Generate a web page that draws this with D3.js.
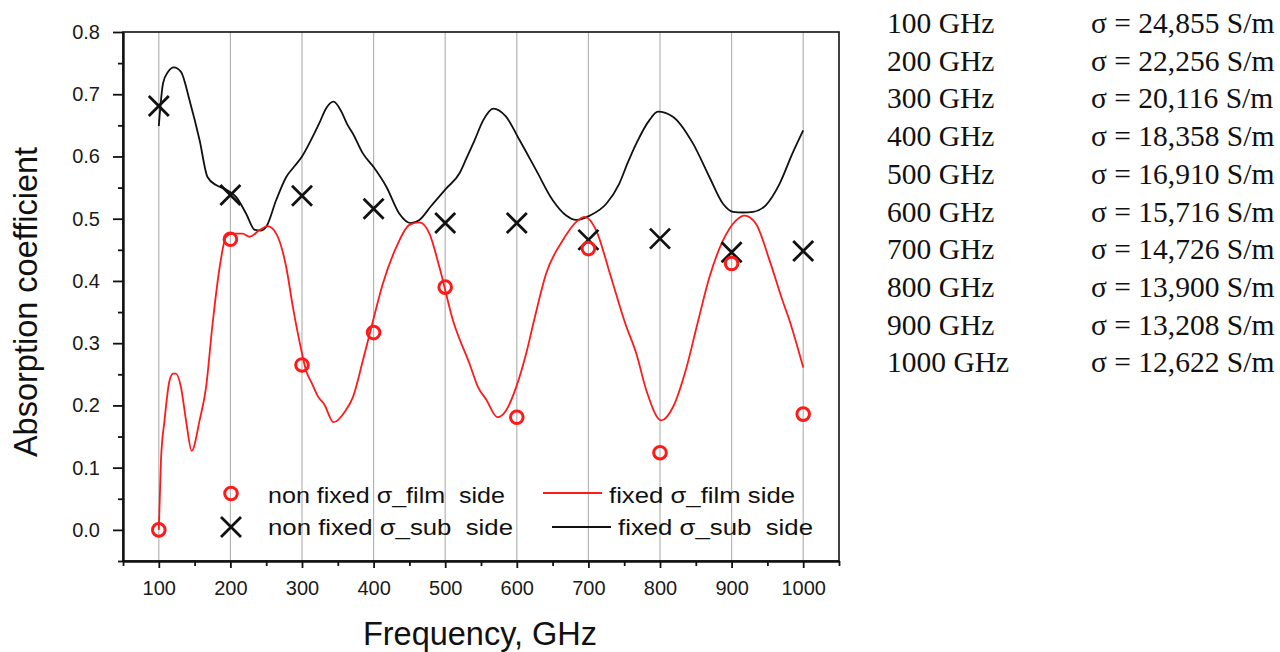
<!DOCTYPE html>
<html>
<head>
<meta charset="utf-8">
<script src="https://cdn.jsdelivr.net/npm/d3@7"></script>
<style>
    body { margin: 0; background: white; }
    #chart-area { width: 1280px; height: 652px; }
    .axis text { font-family: "Liberation Sans", Arial, sans-serif; font-size: 20px; fill: #1a1a1a; }
    .axis-title { font-family: "Liberation Sans", Arial, sans-serif; font-size: 32.5px; fill: #111; }
    .legend text { font-family: "Liberation Sans", Arial, sans-serif; font-size: 22px; fill: #111; white-space: pre; }
    .sigma-list text { font-family: "Liberation Serif", "Times New Roman", serif; font-size: 29.5px; fill: #111; }
</style>
</head>
<body>
<div id="chart-area"></div>
<script>

// measured points (markers)
let freqs = [100, 200, 300, 400, 500, 600, 700, 800, 900, 1000];
let filmPoints = [0.0, 0.467, 0.265, 0.317, 0.390, 0.181, 0.452, 0.124, 0.428, 0.186];
let subPoints = [0.681, 0.538, 0.537, 0.516, 0.493, 0.493, 0.466, 0.468, 0.446, 0.448];

// fixed sigma curves, [freq, value]
let filmCurve = [[100,0.0],[103,0.111],[108,0.176],[115,0.240],[120,0.251],[124,0.251],[131,0.229],[138,0.176],
    [146,0.127],[157,0.176],[166,0.229],[175,0.330],[185,0.422],[194,0.471],[203,0.476],[217,0.476],[227,0.471],
    [241,0.482],[252,0.488],[264,0.476],[278,0.422],[287,0.36],[297,0.30],[306,0.255],[314,0.235],[322,0.215],
    [331,0.202],[344,0.173],[361,0.192],[371,0.213],[385,0.272],[397,0.326],[413,0.396],[432,0.455],[450,0.490],
    [464,0.494],[478,0.476],[492,0.422],[511,0.336],[534,0.267],[546,0.229],[557,0.210],[573,0.181],[585,0.192],
    [599,0.229],[613,0.283],[624,0.336],[641,0.412],[664,0.465],[683,0.495],[695,0.503],[711,0.481],[730,0.412],
    [752,0.330],[767,0.283],[781,0.224],[802,0.176],[818,0.197],[837,0.261],[852,0.330],[869,0.406],[888,0.465],
    [906,0.497],[918,0.505],[934,0.492],[953,0.433],[971,0.369],[981,0.336],[1000,0.261]];

let subCurve = [[100,0.649],[106,0.718],[113,0.736],[121,0.743],[131,0.736],[143,0.69],[157,0.626],[168,0.567],
    [180,0.554],[194,0.547],[208,0.535],[222,0.508],[234,0.482],[243,0.481],[250,0.487],[264,0.53],[278,0.567],
    [290,0.585],[300,0.600],[312,0.625],[324,0.653],[334,0.678],[344,0.688],[355,0.672],[363,0.652],[371,0.637],
    [385,0.605],[400,0.583],[418,0.551],[436,0.508],[452,0.493],[464,0.498],[480,0.52],[501,0.548],[520,0.573],
    [530,0.598],[541,0.626],[553,0.658],[567,0.677],[585,0.664],[604,0.626],[627,0.578],[650,0.53],[669,0.505],
    [683,0.498],[702,0.505],[725,0.524],[743,0.556],[755,0.59],[767,0.621],[785,0.658],[797,0.672],[818,0.664],
    [846,0.621],[869,0.567],[888,0.524],[902,0.511],[916,0.510],[930,0.511],[948,0.522],[967,0.556],[985,0.605],
    [1000,0.642]];

let legendLabels = ["non fixed \u03c3_film  side", "non fixed \u03c3_sub  side", "fixed \u03c3_film side", "fixed \u03c3_sub  side"];

let sigmaFreqLabels = ["100 GHz", "200 GHz", "300 GHz", "400 GHz", "500 GHz", "600 GHz", "700 GHz", "800 GHz", "900 GHz", "1000 GHz"];
let sigmaValues = ["24,855", "22,256", "20,116", "18,358", "16,910", "15,716", "14,726", "13,900", "13,208", "12,622"];


class AbsorptionChart {

    constructor(parentElement) {
        this.parentElement = parentElement;
        this.red = "#ff1a1a";
        this.dark = "#111";
        this.initVis();
    }

    initVis() {
        let vis = this;

        vis.margin = {top: 32, right: 441, bottom: 91, left: 123};
        vis.width = 1280 - vis.margin.left - vis.margin.right;
        vis.height = 652 - vis.margin.top - vis.margin.bottom;

        vis.root = d3.select("#" + vis.parentElement).append("svg")
            .attr("width", 1280)
            .attr("height", 652);

        vis.svg = vis.root.append("g")
            .attr("transform", `translate(${vis.margin.left}, ${vis.margin.top})`);

        vis.x = d3.scaleLinear()
            .domain([50, 1050])
            .range([0, vis.width]);

        vis.y = d3.scaleLinear()
            .domain([-0.05, 0.8])
            .range([vis.height, 0]);

        // vertical grid
        vis.svg.append("g")
            .attr("class", "grid")
            .selectAll("line")
            .data(freqs)
            .enter().append("line")
            .attr("x1", d => vis.x(d))
            .attr("x2", d => vis.x(d))
            .attr("y1", 0)
            .attr("y2", vis.height)
            .attr("stroke", "#b4b4b4")
            .attr("stroke-width", 1.2);

        // frame (top/right)
        vis.svg.append("rect")
            .attr("width", vis.width)
            .attr("height", vis.height)
            .attr("fill", "none")
            .attr("stroke", vis.dark)
            .attr("stroke-width", 1.6);

        vis.drawAxes();
        vis.updateVis();
        vis.drawLegend();
        vis.drawSigmaList();
    }

    drawAxes() {
        let vis = this;

        let yMinor = d3.range(-0.05, 0.8, 0.1);
        let xMinor = d3.range(50, 1051, 100);

        vis.svg.append("g")
            .attr("class", "y-minor")
            .call(d3.axisLeft(vis.y).tickValues(yMinor).tickSize(5).tickFormat(""))
            .call(g => g.select(".domain").remove())
            .selectAll("line").attr("stroke", vis.dark).attr("stroke-width", 1.8);

        vis.svg.append("g")
            .attr("class", "x-minor")
            .attr("transform", `translate(0, ${vis.height})`)
            .call(d3.axisBottom(vis.x).tickValues(xMinor).tickSize(5).tickFormat(""))
            .call(g => g.select(".domain").remove())
            .selectAll("line").attr("stroke", vis.dark).attr("stroke-width", 1.8);

        let yAxis = vis.svg.append("g")
            .attr("class", "axis y-axis")
            .call(d3.axisLeft(vis.y)
                .tickValues(d3.range(0, 0.81, 0.1))
                .tickFormat(d3.format(".1f"))
                .tickSize(10)
                .tickSizeOuter(0)
                .tickPadding(13));

        let xAxis = vis.svg.append("g")
            .attr("class", "axis x-axis")
            .attr("transform", `translate(0, ${vis.height})`)
            .call(d3.axisBottom(vis.x)
                .tickValues(freqs)
                .tickFormat(d3.format("d"))
                .tickSize(7)
                .tickSizeOuter(0)
                .tickPadding(13));

        [yAxis, xAxis].forEach(a => {
            a.select(".domain").attr("stroke", vis.dark).attr("stroke-width", 2.4);
            a.selectAll(".tick line").attr("stroke", vis.dark).attr("stroke-width", 1.8);
        });

        vis.root.append("text")
            .attr("class", "axis-title")
            .attr("text-anchor", "middle")
            .attr("transform", "translate(37, 302) rotate(-90)")
            .text("Absorption coefficient");

        vis.root.append("text")
            .attr("class", "axis-title")
            .attr("text-anchor", "middle")
            .attr("x", 480)
            .attr("y", 645)
            .text("Frequency, GHz");
    }

    updateVis() {
        let vis = this;

        let line = d3.line()
            .curve(d3.curveMonotoneX)
            .x(d => vis.x(d[0]))
            .y(d => vis.y(d[1]));

        vis.svg.append("path")
            .datum(subCurve)
            .attr("fill", "none")
            .attr("stroke", vis.dark)
            .attr("stroke-width", 1.8)
            .attr("d", line);

        vis.svg.append("path")
            .datum(filmCurve)
            .attr("fill", "none")
            .attr("stroke", vis.red)
            .attr("stroke-width", 1.8)
            .attr("d", line);

        let subData = freqs.map((f, i) => ({f: f, v: subPoints[i]}));
        let filmData = freqs.map((f, i) => ({f: f, v: filmPoints[i]}));

        vis.svg.selectAll(".cross")
            .data(subData)
            .enter().append("path")
            .attr("class", "cross")
            .attr("transform", d => `translate(${vis.x(d.f)}, ${vis.y(d.v)})`)
            .attr("d", "M-10,-10L10,10M-10,10L10,-10")
            .attr("stroke", vis.dark)
            .attr("stroke-width", 2.8);

        vis.svg.selectAll(".ring")
            .data(filmData)
            .enter().append("circle")
            .attr("class", "ring")
            .attr("cx", d => vis.x(d.f))
            .attr("cy", d => vis.y(d.v))
            .attr("r", 6.3)
            .attr("fill", "none")
            .attr("stroke", vis.red)
            .attr("stroke-width", 3);
    }

    drawLegend() {
        let vis = this;

        let legend = vis.root.append("g").attr("class", "legend");

        legend.append("circle")
            .attr("cx", 231).attr("cy", 493.5).attr("r", 6.3)
            .attr("fill", "none").attr("stroke", vis.red).attr("stroke-width", 3);
        legend.append("text").attr("x", 268).attr("y", 503)
            .attr("textLength", 237).attr("lengthAdjust", "spacingAndGlyphs")
            .text(legendLabels[0]);

        legend.append("path")
            .attr("transform", "translate(231, 527)")
            .attr("d", "M-10,-10L10,10M-10,10L10,-10")
            .attr("stroke", vis.dark).attr("stroke-width", 2.8);
        legend.append("text").attr("x", 268).attr("y", 535)
            .attr("textLength", 245).attr("lengthAdjust", "spacingAndGlyphs")
            .text(legendLabels[1]);

        legend.append("line")
            .attr("x1", 543).attr("x2", 602).attr("y1", 493).attr("y2", 493)
            .attr("stroke", vis.red).attr("stroke-width", 1.8);
        legend.append("text").attr("x", 609).attr("y", 503)
            .attr("textLength", 186).attr("lengthAdjust", "spacingAndGlyphs")
            .text(legendLabels[2]);

        legend.append("line")
            .attr("x1", 552).attr("x2", 611).attr("y1", 527).attr("y2", 527)
            .attr("stroke", vis.dark).attr("stroke-width", 1.8);
        legend.append("text").attr("x", 618).attr("y", 535)
            .attr("textLength", 195).attr("lengthAdjust", "spacingAndGlyphs")
            .text(legendLabels[3]);
    }

    drawSigmaList() {
        let vis = this;

        let rows = vis.root.append("g")
            .attr("class", "sigma-list")
            .selectAll("g")
            .data(sigmaFreqLabels)
            .enter().append("g")
            .attr("transform", (d, i) => `translate(0, ${33 + i * 37.7})`);

        rows.append("text")
            .attr("x", 887)
            .text(d => d);

        rows.append("text")
            .attr("x", 1091)
            .text((d, i) => "\u03c3 = " + sigmaValues[i] + " S/m");
    }
}

new AbsorptionChart("chart-area");

</script>
</body>
</html>
